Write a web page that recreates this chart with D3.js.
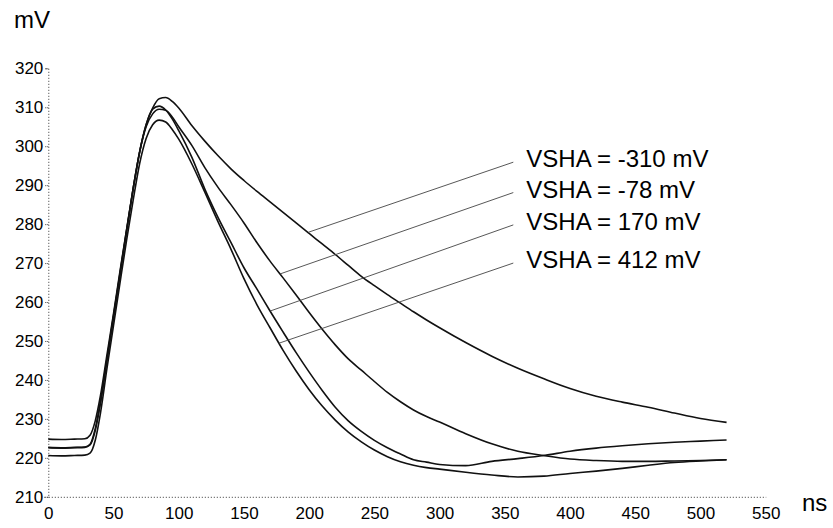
<!DOCTYPE html>
<html>
<head>
<meta charset="utf-8">
<script src="https://cdn.jsdelivr.net/npm/d3@7"></script>
<style>
  html, body { margin: 0; padding: 0; background: #fff; }
  svg { display: block; }
  text { font-family: "Liberation Sans", Arial, Helvetica, sans-serif; fill: #000; }
</style>
</head>
<body>
<svg id="chart" width="833" height="528"></svg>
<script>
// ---- data ----
const timeNs = [0, 10, 20, 28, 32, 36, 40, 45, 50, 55, 60, 65, 70, 75, 80, 85, 90, 95, 100,
  110, 120, 130, 140, 150, 160, 170, 180, 190, 200, 210, 220, 230, 240, 250, 260, 270, 280,
  290, 300, 320, 340, 360, 380, 400, 420, 440, 460, 480, 500, 520];

const seriesNames = ["VSHA = -310 mV", "VSHA = -78 mV", "VSHA = 170 mV", "VSHA = 412 mV"];

const vshaMinus310 = [224.8, 224.7, 224.8, 224.9, 225.8, 229.5, 236, 246.5, 257, 268, 278.5, 289, 298.5, 305.5, 309.8, 312.2, 312.5, 311.5, 309.8,
  305.3, 301.3, 297.6, 294.2, 291.2, 288.4, 285.7, 283.0, 280.3, 277.6, 274.9, 272.2, 269.4, 266.6, 264.2, 261.9, 259.7, 257.5,
  255.4, 253.4, 249.6, 246.1, 243.0, 240.3, 237.8, 235.8, 234.3, 233.0, 231.5, 230.1, 229.1];

const vshaMinus78 = [222.7, 222.6, 222.7, 222.8, 223.5, 227.5, 234.5, 245.5, 256.5, 267.5, 278.5, 289, 298.5, 305, 308.3, 309.5, 309.2, 307.5, 305,
  300.2, 294.5, 289.5, 285, 280.3, 275.2, 270.5, 266.2, 261.8, 257.3, 253, 249, 245.4, 242.5, 239.6, 236.8, 234.4, 232.3,
  230.6, 229.2, 226.2, 223.6, 221.7, 220.6, 219.7, 219.3, 219.1, 219.1, 219.2, 219.3, 219.5];

const vsha170 = [222.6, 222.5, 222.6, 222.7, 223.3, 227, 234, 245, 256, 267, 278, 289, 298.5, 305.5, 309.5, 310.3, 309.3, 307, 304,
  297.2, 289, 281.8, 275.3, 268.8, 263.3, 257.7, 252.3, 247, 242, 237.3, 233, 229.5, 226.8, 224.5, 222.6, 221, 219.5,
  218.9, 218.3, 218, 219.1, 219.8, 220.6, 221.7, 222.5, 223.1, 223.6, 224, 224.3, 224.6];

const vsha412 = [220.6, 220.5, 220.6, 220.7, 221.2, 224.5, 231.5, 243, 254, 265, 275.8, 286, 295.5, 302, 305.5, 306.7, 306.2, 304.3, 301.8,
  295.5, 288.2, 280.7, 273.6, 266, 259.3, 253.4, 247.6, 242.3, 237.5, 233.3, 229.7, 226.6, 224.1, 222, 220.3, 219, 218.1,
  217.5, 217.1, 216.3, 215.6, 215.1, 215.3, 216, 216.6, 217.3, 218.1, 218.8, 219.2, 219.5];

// leader lines: point on curve (ns, mV) and label end (ns, mV)
const leaderCurveNs = [199.3, 177.6, 170.2, 176.6];
const leaderCurveMv = [277.9, 267.2, 257.7, 249.4];
const leaderLabelNs = [356.5, 356.5, 356.5, 356.5];
const leaderLabelMv = [295.9, 288.1, 279.8, 270.0];

const xTicks = [0, 50, 100, 150, 200, 250, 300, 350, 400, 450, 500, 550];
const yTicks = [210, 220, 230, 240, 250, 260, 270, 280, 290, 300, 310, 320];
const xUnit = "ns";
const yUnit = "mV";

// ---- drawing ----
const svg = d3.select("#chart");
const x = d3.scaleLinear().domain([0, 550]).range([48.3, 765.7]);
const y = d3.scaleLinear().domain([210, 320]).range([496.8, 68.3]);

const axisColor = "#333";

// Y axis
const yAxis = svg.append("g").attr("transform", `translate(${x(0)},0)`)
  .call(d3.axisLeft(y).tickValues(yTicks).tickSize(4).tickPadding(1).tickFormat(d3.format("d")));
yAxis.select(".domain").attr("stroke", axisColor).attr("stroke-dasharray", "1,2").attr("stroke-width", 1);
yAxis.selectAll(".tick line").attr("stroke", axisColor).attr("stroke-dasharray", "1,1");
yAxis.selectAll(".tick text").attr("font-size", 17).attr("font-family", "Liberation Sans, Arial, sans-serif").attr("fill", "#000");

// X axis
const xAxis = svg.append("g").attr("transform", `translate(0,${y(210)})`)
  .call(d3.axisBottom(x).tickValues(xTicks).tickSize(0).tickPadding(10).tickFormat(d3.format("d")));
xAxis.select(".domain").attr("stroke", axisColor).attr("stroke-dasharray", "1,2").attr("stroke-width", 1);
xAxis.selectAll(".tick text").attr("font-size", 17).attr("font-family", "Liberation Sans, Arial, sans-serif").attr("fill", "#000");

// Unit labels
svg.append("text").attr("x", 14).attr("y", 28).attr("font-size", 24).text(yUnit);
svg.append("text").attr("x", 802).attr("y", 511).attr("font-size", 24).text(xUnit);

// Curves
const series = [vshaMinus310, vshaMinus78, vsha170, vsha412];
const line = d3.line()
  .x((d, i) => x(timeNs[i]))
  .y(d => y(d))
  .curve(d3.curveMonotoneX);

svg.append("g").selectAll("path").data(series).join("path")
  .attr("d", d => line(d))
  .attr("fill", "none")
  .attr("stroke", "#111")
  .attr("stroke-width", 1.6)
  .attr("stroke-linejoin", "round");

// Leader lines and labels
const lg = svg.append("g");
seriesNames.forEach((name, i) => {
  lg.append("line")
    .attr("x1", x(leaderCurveNs[i])).attr("y1", y(leaderCurveMv[i]))
    .attr("x2", x(leaderLabelNs[i])).attr("y2", y(leaderLabelMv[i]))
    .attr("stroke", "#444").attr("stroke-width", 0.9);
  lg.append("text")
    .attr("x", x(leaderLabelNs[i]) + 13)
    .attr("y", y(leaderLabelMv[i]) + 5)
    .attr("font-size", 24)
    .text(name);
});
</script>
</body>
</html>
